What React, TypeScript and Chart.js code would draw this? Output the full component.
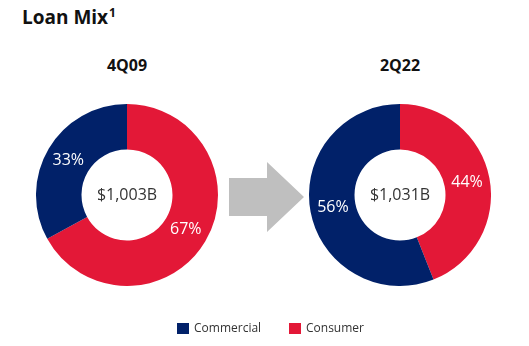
import React, { useEffect, useRef } from "react";
import { Chart, registerables } from "chart.js";

Chart.register(...registerables);

const segments = ["Consumer", "Commercial"];
const periods = ["4Q09", "2Q22"];
const totals = ["$1,003B", "$1,031B"];
const consumerShare = [67, 44];
const commercialShare = [33, 56];
const legendOrder = ["Commercial", "Consumer"];

const NAVY = "#012169";
const RED = "#E31837";
const FONT = '"Open Sans", "Noto Sans", sans-serif';

function makeLabelPlugin(total: string) {
  return {
    id: "sliceLabels",
    afterDatasetsDraw(chart: any) {
      const ctx = chart.ctx;
      const meta = chart.getDatasetMeta(0);
      const values = chart.data.datasets[0].data as number[];
      ctx.save();
      ctx.textAlign = "center";
      ctx.textBaseline = "middle";
      ctx.font = `16px ${FONT}`;
      ctx.fillStyle = "#ffffff";
      meta.data.forEach((arc: any, i: number) => {
        const p = arc.tooltipPosition(false);
        ctx.fillText(values[i] + "%", p.x, p.y);
      });
      const c = meta.data[0];
      ctx.fillStyle = "#333333";
      ctx.fillText(total, c.x, c.y);
      ctx.restore();
    },
  };
}

function Donut({ idx, left }: { idx: number; left: number }) {
  const ref = useRef<HTMLCanvasElement | null>(null);
  useEffect(() => {
    if (!ref.current) return;
    const chart = new Chart(ref.current, {
      type: "doughnut",
      data: {
        labels: segments,
        datasets: [
          {
            data: [consumerShare[idx], commercialShare[idx]],
            backgroundColor: [RED, NAVY],
            borderWidth: 0,
            hoverOffset: 0,
          },
        ],
      },
      options: {
        responsive: false,
        animation: false,
        cutout: "50%",
        layout: { padding: 0 },
        events: [],
        plugins: {
          legend: { display: false },
          tooltip: { enabled: false },
          title: { display: false },
        },
      },
      plugins: [makeLabelPlugin(totals[idx])],
    });
    return () => chart.destroy();
  }, [idx]);
  return (
    <>
      <div
        style={{
          position: "absolute",
          left: left + 91 - 100,
          top: 54,
          width: 200,
          textAlign: "center",
          font: `bold 16px ${FONT}`,
          color: "#111",
          lineHeight: "22px",
        }}
      >
        {periods[idx]}
      </div>
      <canvas
        ref={ref}
        width={182}
        height={182}
        style={{ position: "absolute", left, top: 104, width: 182, height: 182 }}
      />
    </>
  );
}

export default function App() {
  useEffect(() => {
    document.body.style.margin = "0";
  }, []);
  const legendColors: Record<string, string> = { Commercial: NAVY, Consumer: RED };
  return (
    <div style={{ position: "relative", width: 529, height: 346, background: "#fff", overflow: "hidden" }}>
      <div
        style={{
          position: "absolute",
          left: 22,
          top: 4,
          font: `bold 19px ${FONT}`,
          color: "#111",
          lineHeight: "26px",
        }}
      >
        Loan Mix<sup style={{ fontSize: 12, fontWeight: 700, verticalAlign: "top", position: "relative", top: -4, marginLeft: 1 }}>1</sup>
      </div>
      <Donut idx={0} left={36} />
      <Donut idx={1} left={309} />
      <svg style={{ position: "absolute", left: 0, top: 0 }} width={529} height={346}>
        <polygon points="229,178 267,178 267,162 304,197 267,232 267,216 229,216" fill="#BFBFBF" />
      </svg>
      {legendOrder.map((name, i) => (
        <div
          key={name}
          style={{
            position: "absolute",
            left: i === 0 ? 177 : 289,
            top: 320,
            display: "flex",
            alignItems: "center",
            font: `12px ${FONT}`,
            color: "#333",
            lineHeight: "16px",
          }}
        >
          <span style={{ display: "inline-block", width: 12, height: 11, background: legendColors[name], marginRight: 5 }} />
          {name}
        </div>
      ))}
    </div>
  );
}
